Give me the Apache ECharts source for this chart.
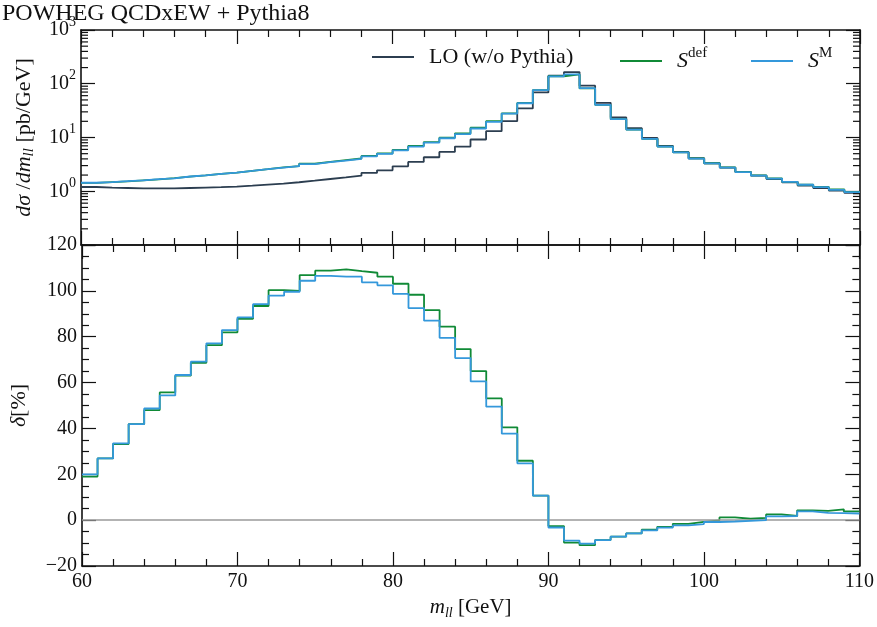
<!DOCTYPE html>
<html>
<head>
<meta charset="utf-8">
<script src="https://cdn.jsdelivr.net/npm/echarts@6/dist/echarts.min.js"></script>
<style>
  html, body { margin: 0; padding: 0; background: #fff; }
  #chart { width: 877px; height: 627px; }
</style>
</head>
<body>
<div id="chart"></div>
<script>
// bins of 1 GeV from 60 to 110
const binEdges = Array.from({ length: 51 }, (_, i) => 60 + i);

// d(sigma)/dm_ll [pb/GeV]
const loValues = [
  1.20, 1.17, 1.15, 1.13, 1.13, 1.13, 1.15, 1.17, 1.19, 1.22,
  1.27, 1.33, 1.39, 1.47, 1.57, 1.69, 1.81, 1.95, 2.19, 2.45,
  2.91, 3.51, 4.29, 5.39, 6.79, 9.18, 13.1, 20.1, 34.8, 69.0,
  141, 165, 92.0, 44.2, 23.6, 14.9, 9.84, 6.98, 5.39, 4.11,
  3.32, 2.76, 2.28, 1.95, 1.69, 1.47, 1.27, 1.15, 1.03, 0.93
];
const sDefValues = [
  1.43, 1.48, 1.53, 1.60, 1.67, 1.76, 1.87, 1.97, 2.10, 2.22,
  2.39, 2.57, 2.78, 2.94, 3.25, 3.53, 3.79, 4.07, 4.55, 5.05,
  5.91, 6.96, 8.22, 9.94, 11.9, 15.2, 20.1, 28.2, 43.8, 76.4,
  138, 149, 82.0, 40.4, 21.9, 14.0, 9.43, 6.78, 5.30, 4.08,
  3.32, 2.79, 2.29, 1.97, 1.73, 1.50, 1.32, 1.20, 1.08, 0.97
];
const sMValues = [
  1.44, 1.48, 1.54, 1.60, 1.68, 1.74, 1.88, 1.98, 2.11, 2.23,
  2.39, 2.58, 2.75, 2.93, 3.21, 3.49, 3.73, 4.02, 4.46, 4.96,
  5.78, 6.76, 8.02, 9.68, 11.6, 14.7, 19.6, 27.7, 43.4, 76.4,
  137, 150, 82.6, 40.4, 21.9, 14.0, 9.40, 6.75, 5.27, 4.04,
  3.29, 2.74, 2.27, 1.95, 1.72, 1.50, 1.32, 1.19, 1.06, 0.96
];

// delta [%] relative to LO
const deltaDef = [
  19.0, 26.9, 33.2, 41.9, 48.0, 55.7, 63.0, 68.6, 76.3, 81.9,
  87.8, 93.4, 100.3, 100.0, 106.9, 108.8, 109.4, 108.6, 107.9, 106.2,
  103.1, 98.3, 91.6, 84.4, 74.6, 65.0, 53.1, 40.5, 25.9, 10.7,
  -2.6, -9.8, -10.9, -8.7, -7.2, -5.8, -4.2, -2.9, -1.6, -0.8,
  -0.1, 1.2, 0.6, 1.0, 2.5, 1.8, 4.3, 4.0, 4.7, 3.8
];
const deltaM = [
  20.0, 26.9, 33.5, 41.9, 48.7, 54.4, 63.3, 69.1, 77.1, 82.9,
  88.4, 94.2, 97.9, 99.6, 104.4, 106.5, 106.2, 106.2, 103.7, 102.4,
  98.7, 92.5, 87.0, 79.5, 70.7, 60.5, 49.5, 37.7, 24.8, 10.7,
  -3.2, -8.9, -10.2, -8.7, -7.2, -5.8, -4.5, -3.3, -2.3, -1.7,
  -0.8, -0.6, -0.3, 0.0, 1.6, 1.8, 3.8, 3.2, 3.1, 2.9
];

const FONT = 'Liberation Serif';
const BLACK = '#111';
const colLO = '#2c3e50';
const colDef = '#108a36';
const colM = '#3498db';

// log-axis minor tick positions (2..9 x 10^k)
const logMinor = [];
for (let e = -1; e < 3; e++) for (let m = 2; m <= 9; m++) logMinor.push([m * Math.pow(10, e)]);

const toSteps = vals => vals.map((v, i) => [binEdges[i], v]).concat([[binEdges[binEdges.length - 1], vals[vals.length - 1]]]);

const stepSeries = (name, vals, color, axis, z) => ({
  name,
  type: 'line',
  step: 'end',
  xAxisIndex: axis,
  yAxisIndex: axis,
  data: toSteps(vals),
  symbol: 'none',
  lineStyle: { color, width: 1.8 },
  itemStyle: { color },
  z
});

const frameLine = { show: true, lineStyle: { color: BLACK, width: 1.6 } };

const xAx = (grid, position, labels, extra) => Object.assign({
  type: 'value',
  gridIndex: grid,
  position,
  min: 60,
  max: 110,
  interval: 10,
  axisLine: Object.assign({ onZero: false }, frameLine),
  axisTick: { show: true, inside: true, length: 14, lineStyle: { color: BLACK, width: 1.2 } },
  minorTick: { show: true, splitNumber: 5, length: 7, lineStyle: { color: BLACK, width: 1.2 } },
  splitLine: { show: false },
  axisLabel: { show: labels, fontFamily: FONT, fontSize: 20, color: BLACK, margin: 6 }
}, extra || {});

const supRich = {
  b: { fontFamily: FONT, fontSize: 20, color: BLACK, lineHeight: 30 },
  sup: { fontFamily: FONT, fontSize: 14, color: BLACK, verticalAlign: 'top', lineHeight: 14 }
};

const option = {
  animation: false,
  backgroundColor: '#fff',
  title: {
    text: 'POWHEG QCDxEW + Pythia8',
    left: 0,
    top: 0,
    padding: [2, 2],
    textStyle: { fontFamily: FONT, fontSize: 24, fontWeight: 'normal', color: BLACK }
  },
  legend: [
    { name: 'LO (w/o Pythia)', left: 372 },
    { name: 'Sdef', left: 620 },
    { name: 'SM', left: 751 }
  ].map(l => ({
    data: [l.name],
    left: l.left,
    top: 46,
    padding: 0,
    icon: 'rect',
    itemWidth: 42,
    itemHeight: 2,
    selectedMode: false,
    formatter: n => n === 'Sdef' ? '{g|}{i|S}{sup|def}' : n === 'SM' ? '{g|}{i|S}{sup|M}' : '{g|}{r|' + n + '}',
    textStyle: {
      rich: {
        g: { width: 10 },
        r: { fontFamily: FONT, fontSize: 22, color: BLACK, lineHeight: 30 },
        i: { fontFamily: FONT, fontSize: 22, fontStyle: 'italic', color: BLACK, lineHeight: 30 },
        sup: { fontFamily: FONT, fontSize: 15, color: BLACK, verticalAlign: 'top', lineHeight: 15 }
      }
    }
  })),
  grid: [
    { left: 81, right: 17, top: 30, height: 215 },
    { left: 81, right: 17, top: 245, height: 321 }
  ],
  xAxis: [
    xAx(0, 'bottom', false),
    xAx(0, 'top', false),
    xAx(1, 'bottom', true, {
      name: '{i|m}{sub|ll}{r| [GeV]}',
      nameLocation: 'middle',
      nameGap: 28,
      nameTextStyle: {
        rich: {
          i: { fontFamily: FONT, fontSize: 21, fontStyle: 'italic', color: BLACK, lineHeight: 26 },
          sub: { fontFamily: FONT, fontSize: 14, fontStyle: 'italic', color: BLACK, verticalAlign: 'bottom', lineHeight: 14 },
          r: { fontFamily: FONT, fontSize: 21, color: BLACK, lineHeight: 26 }
        }
      }
    }),
    xAx(1, 'top', false)
  ],
  yAxis: [
    {
      type: 'log',
      gridIndex: 0,
      position: 'left',
      logBase: 10,
      min: 0.1,
      max: 1000,
      axisLine: frameLine,
      axisTick: { show: true, inside: true, length: 14, lineStyle: { color: BLACK, width: 1.2 } },
      splitLine: { show: false },
      axisLabel: {
        fontFamily: FONT,
        margin: 5,
        formatter: v => {
          const e = Math.round(Math.log10(v));
          return e < 0 ? '' : '{b|10}{sup|' + e + '}';
        },
        rich: supRich
      },
      name: '{i|dσ}{r| /}{i|dm}{sub|ll}{r| [pb/GeV]}',
      nameLocation: 'middle',
      nameRotate: 90,
      nameGap: 44,
      nameTextStyle: {
        rich: {
          i: { fontFamily: FONT, fontSize: 22, fontStyle: 'italic', color: BLACK, lineHeight: 26 },
          sub: { fontFamily: FONT, fontSize: 15, fontStyle: 'italic', color: BLACK, verticalAlign: 'bottom', lineHeight: 15 },
          r: { fontFamily: FONT, fontSize: 22, color: BLACK, lineHeight: 26 }
        }
      }
    },
    {
      type: 'log',
      gridIndex: 0,
      position: 'right',
      logBase: 10,
      min: 0.1,
      max: 1000,
      axisLine: frameLine,
      axisTick: { show: true, inside: true, length: 14, lineStyle: { color: BLACK, width: 1.2 } },
      splitLine: { show: false },
      axisLabel: { show: false }
    },
    {
      type: 'value',
      gridIndex: 1,
      position: 'left',
      min: -20,
      max: 120,
      interval: 20,
      axisLine: Object.assign({ onZero: false }, frameLine),
      axisTick: { show: true, inside: true, length: 14, lineStyle: { color: BLACK, width: 1.2 } },
      minorTick: { show: true, splitNumber: 4, length: 7, lineStyle: { color: BLACK, width: 1.2 } },
      splitLine: { show: false },
      axisLabel: {
        fontFamily: FONT, fontSize: 20, color: BLACK, margin: 5,
        formatter: v => (v < 0 ? '\u2212' + Math.abs(v) : String(v))
      },
      name: '{i|δ}{r|[%]}',
      nameLocation: 'middle',
      nameRotate: 90,
      nameGap: 50,
      nameTextStyle: {
        rich: {
          i: { fontFamily: FONT, fontSize: 22, fontStyle: 'italic', color: BLACK, lineHeight: 26 },
          r: { fontFamily: FONT, fontSize: 22, color: BLACK, lineHeight: 26 }
        }
      }
    },
    {
      type: 'value',
      gridIndex: 1,
      position: 'right',
      min: -20,
      max: 120,
      interval: 20,
      axisLine: Object.assign({ onZero: false }, frameLine),
      axisTick: { show: true, inside: true, length: 14, lineStyle: { color: BLACK, width: 1.2 } },
      minorTick: { show: true, splitNumber: 4, length: 7, lineStyle: { color: BLACK, width: 1.2 } },
      splitLine: { show: false },
      axisLabel: { show: false }
    }
  ],
  series: [
    stepSeries('LO (w/o Pythia)', loValues, colLO, 0, 3),
    stepSeries('Sdef', sDefValues, colDef, 0, 4),
    stepSeries('SM', sMValues, colM, 0, 5),
    Object.assign(stepSeries('Sdef', deltaDef, colDef, 2, 4), {
      xAxisIndex: 2,
      yAxisIndex: 2,
      markLine: {
        silent: true,
        symbol: ['none', 'none'],
        label: { show: false },
        lineStyle: { color: '#9a9a9a', width: 1.5, type: 'solid' },
        data: [{ yAxis: 0 }]
      }
    }),
    Object.assign(stepSeries('SM', deltaM, colM, 2, 5), { xAxisIndex: 2, yAxisIndex: 2 }),
    {
      // matplotlib-style minor ticks for the log axis, both sides
      type: 'custom',
      xAxisIndex: 0,
      yAxisIndex: 0,
      silent: true,
      clip: false,
      z: 10,
      data: logMinor,
      encode: { y: 0 },
      renderItem: (params, api) => {
        const v = api.value(0);
        const l = api.coord([60, v]);
        const r = api.coord([110, v]);
        const style = { stroke: BLACK, lineWidth: 1.2 };
        return {
          type: 'group',
          children: [
            { type: 'line', shape: { x1: l[0], y1: l[1], x2: l[0] + 7, y2: l[1] }, style },
            { type: 'line', shape: { x1: r[0] - 7, y1: r[1], x2: r[0], y2: r[1] }, style }
          ]
        };
      }
    }
  ]
};

const chart = echarts.init(document.getElementById('chart'), null, { renderer: 'canvas' });
chart.setOption(option);
</script>
</body>
</html>
